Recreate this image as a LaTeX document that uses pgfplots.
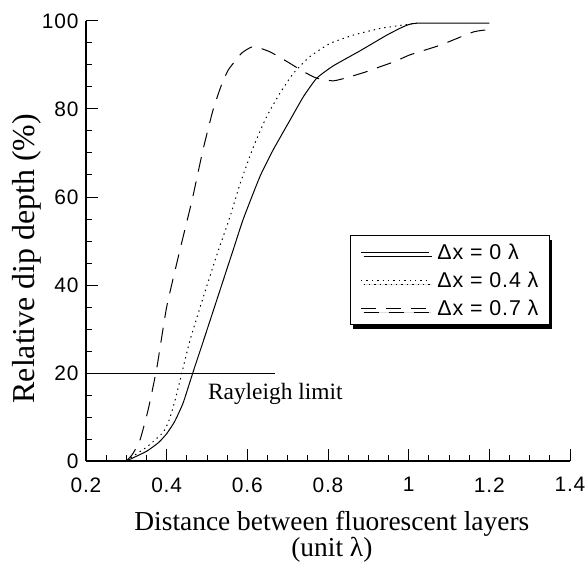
\documentclass[border=0pt]{standalone}
\usepackage{fontspec}
\setmainfont{Liberation Serif}
\setsansfont{Liberation Sans}
\newfontfamily\tickfont[LetterSpace=4]{Liberation Sans}
\usepackage{pgfplots}
\pgfplotsset{compat=1.18}
\usetikzlibrary{shadows}

\begin{document}
\begin{tikzpicture}
\begin{axis}[
    name=ax,
    scale only axis, width=484bp, height=440bp,
    xmin=0.2, xmax=1.4, ymin=0, ymax=100,
    axis x line*=bottom, axis y line*=left,
    axis line style={line width=1.1pt},
    xtick={0.2,0.4,...,1.41}, xticklabels={0.2,0.4,0.6,0.8,1,1.2,1.4},
    ytick={0,20,...,100}, yticklabels={0,20,40,60,80,100},
    minor x tick num=3, minor y tick num=3,
    tick align=inside,
    major tick length=12bp, minor tick length=6bp,
    tick style={line width=1pt, black},
    ticklabel style={font=\tickfont\fontsize{21}{24}\selectfont},
    xticklabel shift=13bp, yticklabel shift=4bp,
    every axis x label/.style={at={(rel axis cs:0.508,0)}, anchor=north,
        yshift=-50bp, align=center, inner sep=0pt,
        font=\fontsize{27.5}{25}\selectfont},
    every axis y label/.style={at={(rel axis cs:0,0.46)}, anchor=center,
        xshift=-59.5bp, rotate=90, inner sep=0pt,
        font=\fontsize{32}{36}\selectfont},
    xlabel={Distance between fluorescent layers\\(unit λ)},
    ylabel={Relative dip depth (\%)},
    legend style={at={(0.959,0.514)}, anchor=north east,
        draw=black, line width=1.4pt,
        drop shadow={shadow xshift=2.5bp, shadow yshift=-4.5bp, fill=black, opacity=1},
        font=\tickfont\fontsize{21.5}{24}\selectfont,
        inner xsep=10bp, inner ysep=7bp, row sep=9bp,
        nodes={inner sep=1bp},
        /tikz/every odd column/.append style={column sep=7bp}},
    legend cell align=left,
    legend image code/.code={\draw[#1, line width=0.9pt] (0bp,0bp) -- (68bp,0bp);},
    clip=false,
]
\addplot[black, line width=1pt, smooth, tension=0.3] coordinates {
(0.30,0) (0.35,2.2) (0.38,4.2) (0.40,6.2) (0.42,9) (0.44,13) (0.455,17.2)
(0.47,21.5) (0.49,27) (0.515,34) (0.54,41) (0.565,48) (0.59,55) (0.631,64.6)
(0.664,70.7) (0.706,77.5) (0.739,82.8) (0.772,87) (0.813,89.8) (0.879,93.2)
(0.946,96.8) (0.987,98.7) (1.02,99.5) (1.2,99.5)};
\addlegendentry{Δx = 0 λ}
\addplot[black, line width=1pt, dash pattern=on 1.4bp off 4bp, smooth, tension=0.3] coordinates {
(0.30,0) (0.31,0.7) (0.351,3.2) (0.39,6.4) (0.405,9) (0.42,13.5) (0.435,19)
(0.458,27.5) (0.49,37) (0.525,47) (0.557,55.5) (0.582,63) (0.615,71.4)
(0.648,78.3) (0.681,83.6) (0.714,88.1) (0.755,91.9) (0.805,94.9) (0.863,96.8)
(0.929,98.3) (0.995,99.2) (1.02,99.5)};
\addlegendentry{Δx = 0.4 λ}
\addplot[black, line width=1pt, dash pattern=on 15bp off 10bp, smooth, tension=0.3] coordinates {
(0.30,0) (0.315,1.5) (0.334,4.8) (0.355,12) (0.376,21.4) (0.4,35) (0.433,48)
(0.463,59.3) (0.49,70.7) (0.515,79.8) (0.536,85.5) (0.553,88.9) (0.586,92.7)
(0.615,94.2) (0.656,93) (0.698,90.8) (0.739,88.5) (0.772,87) (0.813,86.4)
(0.85,87.2) (0.896,88.5) (0.929,89.6) (0.966,90.8) (1.003,92.3) (1.078,94.5)
(1.16,97.5) (1.195,98)};
\addlegendentry{Δx = 0.7 λ}
\addplot[black, line width=1pt, forget plot] coordinates {(0.2,20) (0.669,20)};
\node[anchor=base west, inner sep=0pt, font=\fontsize{23.5}{26}\selectfont]
    at (axis cs:0.502,13.9) {Rayleigh limit};
\end{axis}
\pgfresetboundingbox
\path[use as bounding box] (ax.south west) ++(-86bp,-106bp) rectangle ++(587bp,567bp);
\end{tikzpicture}
\end{document}
